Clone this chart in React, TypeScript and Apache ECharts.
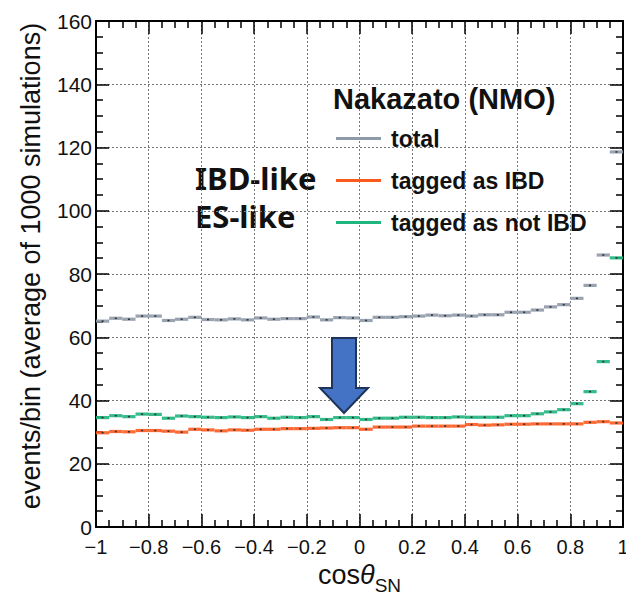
import React, { useEffect, useRef } from "react";
import * as echarts from "echarts";

// Bin centers of cos(theta_SN), 40 bins from -1 to 1
const binCenters = [
  -0.975, -0.925, -0.875, -0.825, -0.775, -0.725, -0.675, -0.625, -0.575, -0.525,
  -0.475, -0.425, -0.375, -0.325, -0.275, -0.225, -0.175, -0.125, -0.075, -0.025,
  0.025, 0.075, 0.125, 0.175, 0.225, 0.275, 0.325, 0.375, 0.425, 0.475,
  0.525, 0.575, 0.625, 0.675, 0.725, 0.775, 0.825, 0.875, 0.925, 0.975,
];
const binHalfWidth = 0.025;

const totalValues = [
  65.1, 66.0, 65.7, 66.7, 66.7, 65.3, 65.7, 66.3, 65.6, 65.5,
  65.8, 65.5, 66.1, 65.7, 65.9, 65.9, 66.4, 65.5, 66.2, 66.1,
  65.3, 66.3, 66.3, 66.5, 66.7, 67.0, 66.8, 67.0, 66.7, 67.1,
  67.1, 67.9, 67.9, 68.6, 69.6, 70.3, 72.3, 76.4, 86.0, 118.6,
];
const ibdValues = [
  29.8, 30.2, 30.1, 30.5, 30.5, 30.3, 30.0, 30.9, 30.7, 30.4,
  30.7, 30.6, 30.9, 30.9, 31.1, 31.1, 31.2, 31.3, 31.4, 31.4,
  30.9, 31.6, 31.6, 31.6, 31.9, 31.9, 31.9, 31.9, 32.4, 32.2,
  32.3, 32.5, 32.5, 32.6, 32.6, 32.6, 32.6, 33.1, 33.3, 32.9,
];
const notIbdValues = [
  34.6, 35.2, 34.9, 35.7, 35.6, 34.4, 35.1, 34.9, 34.7, 34.6,
  34.8, 34.6, 34.9, 34.4, 34.7, 34.6, 34.9, 34.0, 34.6, 34.6,
  34.0, 34.4, 34.4, 34.7, 34.7, 34.6, 34.6, 34.8, 34.7, 34.7,
  34.7, 35.2, 35.2, 35.8, 36.4, 37.1, 39.0, 42.8, 52.3, 85.1,
];

const seriesNames = ["total", "tagged as IBD", "tagged as not IBD"];
const seriesColors = ["#8e99aa", "#ff5a1e", "#1fb57e"];
const legendTitle = "Nakazato (NMO)";
const yAxisTitle = "events/bin (average of 1000 simulations)";
const annotations = ["IBD-like", "ES-like"];

const AXIS_FONT = "'Liberation Sans', Arial, Helvetica, sans-serif";

function fmtTick(v: number): string {
  const r = Math.round(v * 10) / 10;
  if (r === 0) return "0";
  const s = Math.abs(r).toString();
  return r < 0 ? "\u2212" + s : s;
}

function makeSeries(name: string, values: number[], color: string) {
  return {
    name,
    type: "custom",
    xAxisIndex: 0,
    yAxisIndex: 0,
    itemStyle: { color },
    data: binCenters.map((x, i) => [x, values[i]]),
    renderItem: (params: any, api: any) => {
      const x = api.value(0);
      const y = api.value(1);
      const p1 = api.coord([x - binHalfWidth, y]);
      const p2 = api.coord([x + binHalfWidth, y]);
      const c = api.coord([x, y]);
      return {
        type: "group",
        children: [
          {
            type: "line",
            shape: { x1: p1[0], y1: p1[1], x2: p2[0], y2: p2[1] },
            style: { stroke: color, lineWidth: 3.2, opacity: 0.9 },
          },
          {
            type: "rect",
            shape: { x: c[0] - 1, y: c[1] - 0.8, width: 2, height: 1.6 },
            style: { fill: "#333" },
          },
        ],
      };
    },
  };
}

export default function App() {
  const ref = useRef<HTMLDivElement>(null);
  useEffect(() => {
    if (!ref.current) return;
    const chart = echarts.init(ref.current, null, { renderer: "svg" });
    const axisCommon = {
      axisLine: { show: true, onZero: false, lineStyle: { color: "#000", width: 2 } },
      axisTick: { show: true, inside: true, length: 13, lineStyle: { color: "#000", width: 1.5 } },
      minorTick: { show: true, splitNumber: 4, length: 7, lineStyle: { color: "#000", width: 1.5 } },
    };
    const option: any = {
      animation: false,
      backgroundColor: "#fff",
      grid: {
        left: 96,
        right: 3,
        top: 21,
        bottom: 68,
        containLabel: false,
        outerBoundsMode: "none",
      },
      title: {
        text: legendTitle,
        left: 333,
        top: 84,
        padding: 0,
        textStyle: { fontFamily: AXIS_FONT, fontWeight: "bold", fontSize: 29, color: "#111" },
      },
      legend: {
        orient: "vertical",
        left: 336,
        top: 127,
        itemWidth: 45,
        itemHeight: 3,
        itemGap: 19,
        icon: "rect",
        padding: 0,
        data: seriesNames,
        selectedMode: false,
        textStyle: {
          fontFamily: AXIS_FONT,
          fontWeight: "bold",
          fontSize: 23,
          lineHeight: 23,
          color: "#111",
          padding: [0, 0, 0, 5],
        },
      },
      xAxis: [
        {
          type: "value",
          position: "bottom",
          min: -1,
          max: 1,
          interval: 0.2,
          ...axisCommon,
          axisLabel: {
            fontFamily: AXIS_FONT,
            fontSize: 20,
            color: "#111",
            margin: 10,
            formatter: (v: number) => fmtTick(v),
          },
          splitLine: { show: true, lineStyle: { color: "#777", type: [2, 2], width: 1 } },
          name: "{a|cos}{b|\u03b8}{c|SN}",
          nameLocation: "middle",
          nameGap: 23,
          nameTextStyle: {
            rich: {
              a: { fontFamily: AXIS_FONT, fontSize: 27, color: "#111", verticalAlign: "top", lineHeight: 30 },
              b: { fontFamily: AXIS_FONT, fontSize: 27, fontStyle: "italic", color: "#111", verticalAlign: "top", lineHeight: 30 },
              c: { fontFamily: AXIS_FONT, fontSize: 19, color: "#111", verticalAlign: "top", lineHeight: 20, padding: [14, 0, 0, 0] },
            },
          },
        },
        {
          type: "value",
          position: "top",
          min: -1,
          max: 1,
          interval: 0.2,
          ...axisCommon,
          axisLabel: { show: false },
          splitLine: { show: false },
        },
      ],
      yAxis: [
        {
          type: "value",
          position: "left",
          min: 0,
          max: 160,
          interval: 20,
          ...axisCommon,
          axisLabel: { fontFamily: AXIS_FONT, fontSize: 21, color: "#111", margin: 4 },
          splitLine: { show: true, lineStyle: { color: "#777", type: [2, 2], width: 1 } },
          name: yAxisTitle,
          nameLocation: "middle",
          nameGap: 52,
          nameTextStyle: { fontFamily: AXIS_FONT, fontSize: 27, color: "#111", padding: [0, 0, 0, 16] },
        },
        {
          type: "value",
          position: "right",
          min: 0,
          max: 160,
          interval: 20,
          ...axisCommon,
          axisLabel: { show: false },
          splitLine: { show: false },
        },
      ],
      graphic: [
        {
          type: "text",
          left: 195,
          top: 162,
          style: {
            text: annotations[0],
            font: "bold 31px 'Noto Sans', sans-serif",
            fill: "#111",
          },
        },
        {
          type: "text",
          left: 195,
          top: 200,
          style: {
            text: annotations[1],
            font: "bold 31px 'Noto Sans', sans-serif",
            fill: "#111",
          },
        },
        {
          type: "polygon",
          z: 100,
          shape: {
            points: [
              [332, 338],
              [356, 338],
              [356, 388],
              [368, 388],
              [344, 413],
              [320, 388],
              [332, 388],
            ],
          },
          style: { fill: "#4472c4", stroke: "#1f3557", lineWidth: 2 },
        },
      ],
      series: [
        makeSeries(seriesNames[0], totalValues, seriesColors[0]),
        makeSeries(seriesNames[1], ibdValues, seriesColors[1]),
        makeSeries(seriesNames[2], notIbdValues, seriesColors[2]),
      ],
    };
    chart.setOption(option);
    return () => chart.dispose();
  }, []);
  return (
    <div
      ref={ref}
      style={{ position: "fixed", left: 0, top: 0, width: 626, height: 595, background: "#fff" }}
    />
  );
}
